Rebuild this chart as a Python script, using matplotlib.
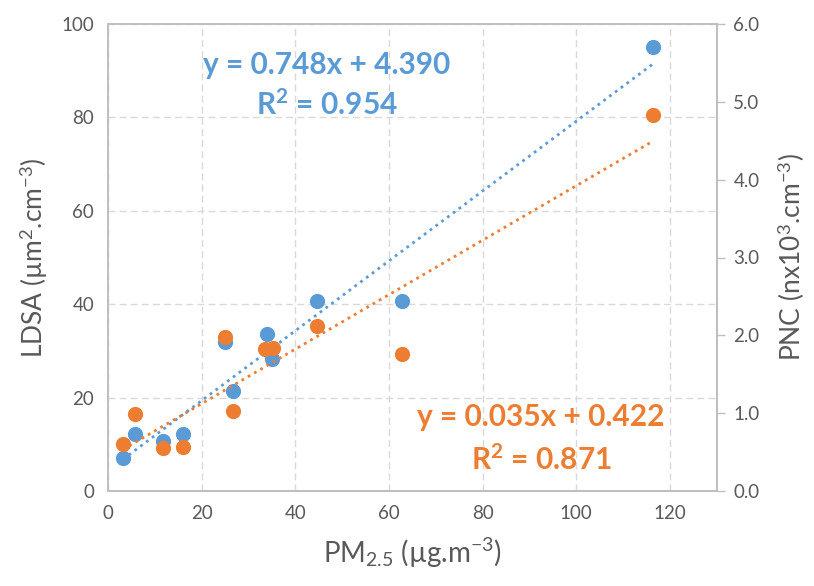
import numpy as np
import matplotlib
matplotlib.use('Agg')
import matplotlib.pyplot as plt

# Data
pm25 = [3.2, 5.8, 11.8, 16.1, 25.0, 26.6, 33.9, 35.1, 44.6, 62.8, 116.3]
ldsa = [7.1, 12.1, 10.8, 12.2, 31.8, 21.4, 33.6, 28.2, 40.7, 40.7, 95.1]
pm25_pnc = [3.2, 5.8, 11.8, 16.1, 25.0, 26.6, 33.6, 35.3, 44.6, 62.8, 116.3]
pnc = [0.60, 0.99, 0.55, 0.57, 1.98, 1.03, 1.82, 1.84, 2.12, 1.76, 4.83]

# Trendline coefficients as printed on the chart
ldsa_fit = (0.748, 4.390, 0.954)
pnc_fit = (0.035, 0.422, 0.871)

blue = '#5B9BD5'
orange = '#ED7D31'
grey = '#595959'
spine_col = '#BFBFBF'

plt.rcParams['font.family'] = ['Lato', 'DejaVu Sans']
plt.rcParams['mathtext.fontset'] = 'custom'
plt.rcParams['mathtext.rm'] = 'Lato'
plt.rcParams['mathtext.it'] = 'Lato:italic'
plt.rcParams['mathtext.bf'] = 'Lato:bold'

fig = plt.figure(figsize=(8.14, 5.86), dpi=100)
ax = fig.add_axes([108 / 814, 1 - 491 / 586, (716.7 - 108) / 814, (491 - 24) / 586])
ax2 = ax.twinx()

ax.set_xlim(0, 130)
ax.set_ylim(0, 100)
ax2.set_ylim(0, 6)

ax.set_xticks(range(0, 121, 20))
ax.set_yticks(range(0, 101, 20))
ax2.set_yticks(np.arange(0, 6.1, 1.0))
ax2.set_yticklabels([f'{v:.1f}' for v in np.arange(0, 6.1, 1.0)])

ax.grid(True, color='#D9D9D9', linestyle=(0, (5, 3)), linewidth=1)
ax.set_axisbelow(True)

for a in (ax, ax2):
    for s in a.spines.values():
        s.set_color(spine_col)
        s.set_linewidth(1.3)
ax.tick_params(axis='both', length=0, labelsize=13.5, labelcolor=grey, pad=10)
ax2.tick_params(axis='y', length=6, color=spine_col, width=1, labelsize=13.5, labelcolor=grey, pad=6)

# scatter points
ax.scatter(pm25, ldsa, s=120, color=blue, zorder=3, linewidths=0)
ax2.scatter(pm25_pnc, pnc, s=120, color=orange, zorder=3, linewidths=0)

# trendlines
xb = np.array([min(pm25), max(pm25)])
ax.plot(xb, ldsa_fit[0] * xb + ldsa_fit[1], color=blue, lw=2,
        linestyle=(0, (1, 1.6)), zorder=5)
xo = np.array([min(pm25_pnc), max(pm25_pnc)])
ax2.plot(xo, pnc_fit[0] * xo + pnc_fit[1], color=orange, lw=2,
         linestyle=(0, (1, 1.6)), zorder=5)

# equations
eq_size = 21.5
fig.text(327 / 814, 1 - 65 / 586, f'y = {ldsa_fit[0]:.3f}x + {ldsa_fit[1]:.3f}',
         color=blue, fontsize=eq_size, fontweight='bold', ha='center', va='center')
fig.text(327 / 814, 1 - 105 / 586, f'R$^\\mathbf{{2}}$ = {ldsa_fit[2]:.3f}',
         color=blue, fontsize=eq_size, fontweight='bold', ha='center', va='center')
fig.text(541 / 814, 1 - 417 / 586, f'y = {pnc_fit[0]:.3f}x + {pnc_fit[1]:.3f}',
         color=orange, fontsize=eq_size, fontweight='bold', ha='center', va='center')
fig.text(541 / 814, 1 - 460 / 586, f'R$^\\mathbf{{2}}$ = {pnc_fit[2]:.3f}',
         color=orange, fontsize=eq_size, fontweight='bold', ha='center', va='center')

# axis labels
ax.set_xlabel('PM$_{2.5}$ (µg.m$^{-3}$)', fontsize=20, color=grey, labelpad=10)
ax.set_ylabel('LDSA (µm$^{2}$.cm$^{-3}$)', fontsize=19, color=grey, labelpad=8)
ax2.set_ylabel('PNC (nx10$^{3}$.cm$^{-3}$)', fontsize=19, color=grey, labelpad=12)

fig.savefig('out.png', dpi=100)
